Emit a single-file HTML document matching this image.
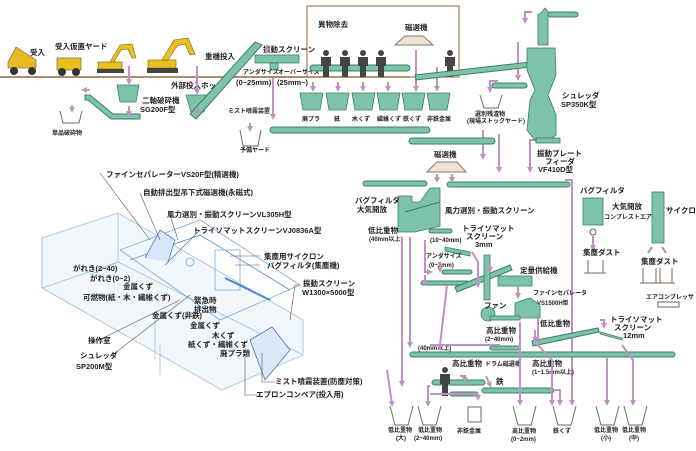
<!DOCTYPE html>
<html><head><meta charset="utf-8">
<style>
html,body{margin:0;padding:0;background:#fff;}
svg{display:block;}
text{font-family:"Liberation Sans","Noto Sans CJK JP",sans-serif;font-weight:bold;fill:#222;}
.s{font-size:7.5px;}
.xs{font-size:6px;}
.cv{fill:#7cc3aa;stroke:#3d7d68;stroke-width:1;}
.tl{fill:#7cc3aa;stroke:#3d7d68;stroke-width:0.8;}
.pa{stroke:#c090c6;stroke-width:2;fill:none;}
.bl{stroke:#9cc2dc;stroke-width:0.8;fill:none;}
.ld{stroke:#555;stroke-width:0.6;fill:none;}
.bin{stroke:#7a6a5a;stroke-width:1;fill:none;}
</style></head>
<body>
<svg width="696" height="451" viewBox="0 0 696 451" xmlns="http://www.w3.org/2000/svg">
<defs>
<marker id="ar" markerUnits="userSpaceOnUse" markerWidth="6" markerHeight="6" refX="3" refY="3" orient="auto"><path d="M0,0 L6,3 L0,6 z" fill="#c090c6"/></marker>
</defs>

<line x1="0" y1="77" x2="410" y2="77" stroke="#8b6a45" stroke-width="1.5"/>
<rect x="307" y="6" width="152" height="71" fill="none" stroke="#a0805a" stroke-width="1.2"/>
<text x="318" y="27" class="s">異物除去</text>
<text x="405" y="30" class="s">磁選機</text>
<path d="M395,45 L405,36 L423,36 L433,45 Z" fill="#eee4d4" stroke="#8a7a60"/>

<path d="M8,62 L16,47 L36,60 L36,68 L8,68 Z" fill="#e8b820" stroke="#555" stroke-width="0.6"/>
<circle cx="14" cy="71" r="4" fill="#333"/><circle cx="32" cy="71" r="4" fill="#333"/>
<text x="30" y="55" class="s">受入</text>
<rect x="57" y="58" width="24" height="12" fill="#e8c020" stroke="#555" stroke-width="0.6"/>
<circle cx="62" cy="72" r="4" fill="#333"/><circle cx="76" cy="72" r="4" fill="#333"/>
<text x="55" y="49" class="s">受入仮置ヤード</text>
<g fill="#e8c020" stroke="#7a6010" stroke-width="0.6">
<rect x="98" y="62" width="24" height="7"/><path d="M110,62 L120,45 L132,44 L136,58 L132,58 L128,49 L121,50 L114,62Z"/>
<rect x="148" y="60" width="28" height="8"/><path d="M162,60 L174,40 L188,38 L195,54 L190,55 L185,44 L177,46 L168,60Z"/>
</g>
<rect x="97" y="69" width="27" height="4" fill="#444"/><rect x="147" y="68" width="31" height="5" fill="#444"/>
<text x="205" y="59" class="s">重機投入</text>

<path d="M117,85 L139,85 L136,102 L120,102 Z" class="tl"/>
<text x="142" y="103" class="s">二軸破砕機</text><text x="140" y="112" class="s">SG200F型</text>
<path d="M186,95 L209,95 L204,112 L191,112 Z" class="tl"/>
<text x="171" y="88" class="s">外部投入ホッパ</text>
<path d="M85,95 L90,95 L113,114 L140,114 L140,119 L111,119 L88,100 L85,100 Z" class="cv"/>
<path d="M190,114 L255,42 L262,45 L196,119 Z" class="cv"/>
<rect x="255" y="55" width="44" height="8" class="tl"/>
<rect x="270" y="63" width="8" height="7" class="tl"/>
<text x="263" y="52" class="s">振動スクリーン</text>
<text x="243" y="74" class="xs">アンダサイズ</text><text x="278" y="74" class="xs">オーバーサイズ</text>
<text x="236" y="85" class="s">(0~25mm)</text><text x="277" y="85" class="s">(25mm~)</text>
<text x="228" y="113" class="xs">ミスト噴霧装置</text>
<path d="M60,111 L63,123 L79,123 L82,111" class="bin"/>
<text x="52" y="135" class="xs">単品破砕物</text>
<path d="M240,130 L243,146 L258,146 L261,130" class="bin"/>
<text x="240" y="152" class="xs">予備ヤード</text>

<g class="pa" marker-end="url(#ar)">
<line x1="129" y1="66" x2="129" y2="82"/><line x1="129" y1="106" x2="129" y2="114"/>
<line x1="197" y1="66" x2="197" y2="92"/><line x1="197" y1="107" x2="197" y2="113"/>
<line x1="72" y1="105" x2="72" y2="110"/><line x1="90" y1="90" x2="84" y2="90"/>
<line x1="250" y1="123" x2="250" y2="129"/><line x1="273" y1="78" x2="273" y2="117"/>
<line x1="267" y1="45" x2="267" y2="51"/>
<line x1="313" y1="82" x2="313" y2="89"/><line x1="338" y1="82" x2="338" y2="89"/><line x1="363" y1="82" x2="363" y2="89"/><line x1="388" y1="82" x2="388" y2="89"/><line x1="416" y1="50" x2="416" y2="89"/><line x1="437" y1="67" x2="437" y2="89"/>
<line x1="518" y1="42" x2="518" y2="78"/><polyline points="498,81 490,81 490,90"/>
<line x1="483" y1="130" x2="483" y2="157"/><line x1="499" y1="134" x2="499" y2="170"/>
<polyline points="535,140 530,140 530,170"/>
<polyline points="532,12 525,12 525,21"/>
</g>

<rect x="310" y="65" width="100" height="6" rx="3" class="cv"/>
<g fill="#444">
<g id="p"><circle cx="326" cy="53" r="3"/><path d="M321,57 L331,57 L331,66 L329,66 L329,77 L323,77 L323,66 L321,66Z"/></g>
<use href="#p" x="19"/><use href="#p" x="37"/><use href="#p" x="55"/><use href="#p" x="124"/>
</g>
<path d="M415,75 L530,62 L531,67 L416,80 Z" class="cv"/>
<g class="tl">
<path d="M300,93 L323,93 L320,110 L303,110 Z"/><path d="M326,93 L349,93 L346,110 L329,110 Z"/>
<path d="M352,93 L375,93 L372,110 L355,110 Z"/><path d="M377,93 L400,93 L397,110 L380,110 Z"/>
<path d="M402,93 L425,93 L422,110 L405,110 Z"/><path d="M427,93 L450,93 L447,110 L430,110 Z"/>
</g>
<g class="xs"><text x="302" y="121">廃プラ</text><text x="334" y="121">紙</text><text x="352" y="121">木くず</text><text x="377" y="121">繊維くず</text><text x="403" y="121">鉄くず</text><text x="427" y="121">非鉄金属</text></g>
<rect x="270" y="127" width="160" height="6" rx="3" class="cv"/>
<rect x="409" y="138" width="86" height="6" rx="3" class="cv"/>
<rect x="492" y="83" width="35" height="5" rx="2.5" class="cv"/>
<path d="M480,95 L484,108 L498,108 L502,95" class="bin"/>
<text x="475" y="116" class="xs">選別残渣物</text><text x="467" y="123" class="xs">(現場ストックヤード)</text>

<path d="M540,14 L545,8 L550,14 L548,14 L548,45 L538,45 L538,14Z" class="tl"/>
<rect x="548" y="12" width="30" height="5" rx="2.5" class="cv"/>
<path d="M527,48 L555,48 L556,75 L548,95 L556,115 L556,135 L545,143 L537,143 L527,130 L530,100 L535,90 L527,70 Z" class="tl"/>
<rect x="536" y="138" width="24" height="5" class="tl"/>
<text x="562" y="98" class="s">シュレッダ</text><text x="561" y="107" class="s">SP350K型</text>
<text x="537" y="156" class="s">振動プレート</text><text x="545" y="164" class="s">フィーダ</text><text x="538" y="172" class="s">VF410D型</text>

<text x="434" y="157" class="s">磁選機</text>
<path d="M427,172 L437,162 L457,162 L466,172 Z" fill="#eee4d4" stroke="#8a7a60"/>
<rect x="363" y="181" width="64" height="5" rx="2.5" class="cv"/>
<rect x="447" y="182" width="123" height="5" rx="2.5" class="cv"/>
<g class="pa" marker-end="url(#ar)">
<line x1="437" y1="174" x2="437" y2="180"/><line x1="452" y1="174" x2="452" y2="180"/>
<polyline points="565,180 572,180 572,403"/>
</g>

<path d="M398,196 L412,196 L412,202 L420,202 L430,188 L440,188 L440,226 L415,232 L398,232 Z" class="tl"/>
<line x1="405" y1="212" x2="440" y2="202" stroke="#3d7d68"/>
<text x="355" y="203" class="s">バグフィルタ</text><text x="357" y="212" class="s">大気開放</text>
<text x="445" y="213" class="s">風力選別・振動スクリーン</text>
<text x="368" y="233" class="s">低比重物</text><text x="369" y="241" class="xs">(40mm以上)</text>
<rect x="429" y="229" width="23" height="4" rx="2" class="cv"/>
<text x="430" y="242" class="xs">(10~40mm)</text>
<text x="462" y="231" class="s">トライソマット</text><text x="466" y="239" class="s">スクリーン</text><text x="475" y="247" class="s">3mm</text>
<path d="M445,247 L470,252 L470,256 L445,251Z" class="tl"/>
<text x="426" y="258" class="xs">アンダサイズ</text><text x="429" y="267" class="xs">(0~2mm)</text>
<rect x="442" y="270" width="30" height="4" rx="2" class="cv"/>
<rect x="421" y="281" width="48" height="4" rx="2" class="cv"/>
<path d="M455,287 L510,265 L512,270 L457,292Z" class="cv"/>
<path d="M484,255 L490,255 L490,300 L484,300Z" class="tl"/>
<rect x="498" y="276" width="34" height="10" class="tl"/>
<text x="520" y="273" class="s">定量供給機</text>
<text x="533" y="295" class="xs">ファインセパレータ</text><text x="537" y="305" class="xs">VS1500H型</text>
<path d="M515,303 L530,298 L540,305 L540,318 L515,318Z" class="tl"/>
<circle cx="488" cy="314" r="7" class="tl"/>
<rect x="490" y="316" width="30" height="4" class="tl"/>
<text x="484" y="308" class="s">ファン</text>
<text x="486" y="333" class="s">高比重物</text><text x="485" y="341" class="xs">(2~40mm)</text>
<text x="540" y="326" class="s">低比重物</text>
<path d="M532,341 L598,328 L599,332 L533,346Z" class="cv"/>
<path d="M600,332 L622,338 L622,340 L600,334Z" class="tl"/>
<text x="610" y="322" class="s">トライソマット</text><text x="614" y="330" class="s">スクリーン</text><text x="623" y="338" class="s">12mm</text>
<text x="418" y="350" class="xs">(40mm以上)</text>
<rect x="490" y="346" width="30" height="4" rx="2" class="cv"/>
<rect x="410" y="352" width="265" height="5" rx="2.5" class="cv"/>
<text x="452" y="366" class="s">高比重物</text>
<text x="485" y="366" class="xs">ドラム磁選機</text>
<text x="496" y="384" class="s">鉄</text>
<text x="532" y="366" class="s">高比重物</text><text x="532" y="374" class="xs">(1~1.5mm以上)</text>
<rect x="432" y="380" width="53" height="5" rx="2.5" class="cv"/>
<rect x="450" y="392" width="28" height="4" rx="2" class="cv"/>
<rect x="482" y="388" width="72" height="5" rx="2.5" class="cv"/>
<g fill="#444"><circle cx="445" cy="370" r="3"/><path d="M440,374 L450,374 L450,384 L448,384 L448,396 L442,396 L442,384 L440,384Z"/></g>

<g class="pa" marker-end="url(#ar)">
<line x1="402" y1="237" x2="402" y2="384"/><line x1="410" y1="237" x2="410" y2="345"/>
<polyline points="425,240 425,272 430,272"/><polyline points="425,275 425,283"/>
<polyline points="472,252 478,262 478,285"/>
<polyline points="440,262 440,270"/><polyline points="490,263 490,270"/>
<polyline points="447,285 440,345 440,348"/>
<polyline points="518,286 518,296"/>
<polyline points="538,318 538,345 552,360 552,403"/>
<polyline points="520,322 520,345 520,403"/>
<line x1="535" y1="330" x2="535" y2="340"/>
<polyline points="600,320 604,320 604,326"/>
<polyline points="607,358 607,403"/><polyline points="622,345 633,360 633,403"/>
<polyline points="430,386 428,386 428,404"/><polyline points="460,376 465,376 465,380"/>
<polyline points="430,394 478,394 478,398"/>
<polyline points="486,376 490,385"/>
<polyline points="555,390 560,390 560,403"/>
<polyline points="387,370 392,404"/>
<line x1="593" y1="236" x2="593" y2="248"/>
</g>
<line x1="430" y1="345" x2="500" y2="345" stroke="#c090c6" stroke-width="2"/>
<g class="bin">
<path d="M390,406 L395,425 L408,425 L413,406"/><path d="M418,406 L423,425 L436,425 L441,406"/>
<path d="M468,407 L468,422 L481,422 L481,407 Z"/>
<path d="M513,406 L518,425 L531,425 L536,406"/><path d="M553,406 L558,425 L571,425 L576,406"/>
<path d="M596,406 L601,425 L614,425 L619,406"/><path d="M624,406 L629,425 L642,425 L647,406"/>
</g>
<g class="xs">
<text x="388" y="432">低比重物</text><text x="396" y="440">(大)</text>
<text x="418" y="432">低比重物</text><text x="414" y="440">(2~40mm)</text>
<text x="457" y="433">非鉄金属</text>
<text x="512" y="433">高比重物</text><text x="511" y="441">(0~2mm)</text>
<text x="553" y="433">鉄くず</text>
<text x="594" y="432">低比重物</text><text x="601" y="440">(小)</text>
<text x="622" y="432">低比重物</text><text x="629" y="440">(中)</text>
</g>

<text x="580" y="193" class="s">バグフィルタ</text>
<path d="M583,198 L603,198 L603,225 L583,225Z" class="tl"/>
<text x="612" y="209" class="s">大気開放</text><text x="604" y="219" class="xs">コンプレストエア</text>
<circle cx="593" cy="232" r="3" fill="none" stroke="#666"/>
<text x="583" y="255" class="s">集塵ダスト</text>
<path d="M588,260 L588,273 L603,273 L603,260 M584,273 L606,273" class="bin"/>
<rect x="652" y="192" width="12" height="51" class="tl"/>
<text x="666" y="213" class="s">サイクロン</text>
<text x="641" y="264" class="s">集塵ダスト</text>
<path d="M643,268 L643,283 L656,283 L656,268 M660,268 L660,283 L672,283 L672,268 M640,283 L675,283" class="bin"/>
<text x="646" y="299" class="xs">エアコンプレッサ</text>
<rect x="658" y="302" width="21" height="5" fill="none" stroke="#666"/>
<path d="M652,247 L648,253 M662,247 L666,253" stroke="#999" stroke-width="2"/>

<g class="bl">
<path d="M42,238 L118,213 L303,320 L303,355 L222,390 L42,288 Z" fill="#f2f7fb"/>
<line x1="42" y1="238" x2="42" y2="288"/>
<line x1="118" y1="213" x2="118" y2="262"/><line x1="42" y1="288" x2="118" y2="262"/>
<line x1="118" y1="262" x2="303" y2="355"/>
<line x1="118" y1="262" x2="90" y2="275"/>
<path d="M120,250 L200,220 L300,285 L220,320 Z" stroke="#7aa8d8"/>
<path d="M130,260 L200,235 L290,290" stroke="#5b8fd0"/>
<path d="M145,258 L160,230 L175,240 L168,262" stroke="#4a86d0" fill="#d6e6f6"/>
<path d="M250,340 L272,327 L290,350 L265,380 Z" stroke="#3a76c0" fill="#dce8f5"/>
<line x1="155" y1="320" x2="155" y2="360"/><line x1="160" y1="345" x2="160" y2="375"/>
<rect x="215" y="250" width="25" height="40" stroke="#7aa8d8"/>
<circle cx="190" cy="262" r="4" stroke="#7aa8d8"/>
<line x1="225" y1="278" x2="270" y2="300" stroke="#4a86d0" stroke-width="2"/>
</g>
<g class="ld">
<line x1="100" y1="173" x2="150" y2="240"/><line x1="140" y1="193" x2="160" y2="240"/>
<line x1="170" y1="215" x2="178" y2="240"/><line x1="200" y1="230" x2="165" y2="265"/>
<line x1="230" y1="256" x2="260" y2="256"/><line x1="235" y1="265" x2="260" y2="265"/>
<polyline points="290,320 295,285 300,285"/>
<polyline points="262,353 262,382 275,382"/><polyline points="245,357 245,395 260,395"/>
<line x1="95" y1="342" x2="180" y2="300"/><line x1="110" y1="357" x2="190" y2="295"/>
</g>
<g class="s">
<text x="106" y="177">ファインセパレーターVS20F型(精選機)</text>
<text x="143" y="195">自動排出型吊下式磁選機(永磁式)</text>
<text x="167" y="217">風力選別・振動スクリーンVL305H型</text>
<text x="193" y="233">トライソマットスクリーンVJ0836A型</text>
<text x="264" y="259">集塵用サイクロン</text>
<text x="267" y="268">バグフィルタ(集塵機)</text>
<text x="303" y="286">振動スクリーン</text><text x="302" y="295">W1300×5000型</text>
<text x="275" y="384">ミスト噴霧装置(防塵対策)</text>
<text x="256" y="397">エプロンコンベア(投入用)</text>
<text x="73" y="271">がれき(2~40)</text><text x="90" y="281">がれき(0~2)</text>
<text x="123" y="289">金属くず</text>
<text x="83" y="300">可燃物(紙・木・繊維くず)</text>
<text x="194" y="303">緊急時</text><text x="194" y="312">排出物</text>
<text x="152" y="318">金属くず(非鉄)</text>
<text x="190" y="328">金属くず</text><text x="212" y="338">木くず</text>
<text x="188" y="347">紙くず・繊維くず</text><text x="220" y="356">廃プラ類</text>
<text x="88" y="343">操作室</text>
<text x="80" y="358">シュレッダ</text><text x="76" y="369">SP200M型</text>
</g>
</svg>
</body></html>
